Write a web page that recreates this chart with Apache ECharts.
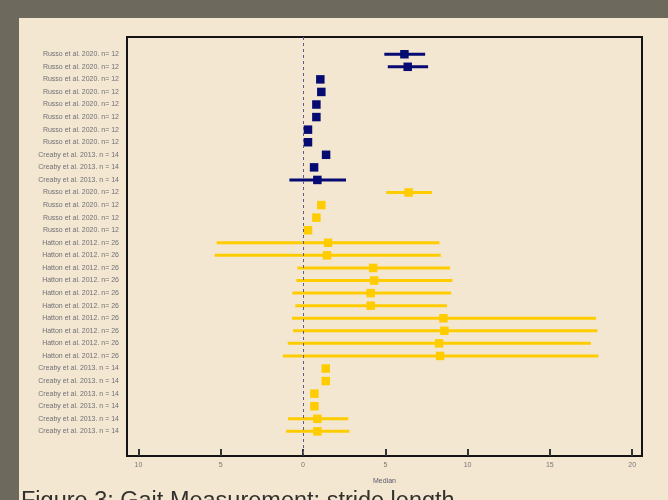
<!DOCTYPE html>
<html>
<head>
<meta charset="utf-8">
<script src="https://cdn.jsdelivr.net/npm/echarts@6/dist/echarts.min.js"></script>
<style>
  html, body { margin: 0; padding: 0; }
  #frame { position: relative; width: 668px; height: 500px; background: #6d695c; overflow: hidden; }
  #panel { position: absolute; left: 19px; top: 18px; right: 0; bottom: 0; background: #f3e7d2; }
  #chart { position: absolute; left: 0; top: 0; width: 668px; height: 500px; }
</style>
</head>
<body>
<div id="frame">
  <div id="panel"></div>
  <div id="chart"></div>
</div>
<script>
// Study rows, top to bottom
const studyLabels = [
  'Russo et al. 2020. n= 12', 'Russo et al. 2020. n= 12', 'Russo et al. 2020. n= 12',
  'Russo et al. 2020. n= 12', 'Russo et al. 2020. n= 12', 'Russo et al. 2020. n= 12',
  'Russo et al. 2020. n= 12', 'Russo et al. 2020. n= 12',
  'Creaby et al. 2013. n = 14', 'Creaby et al. 2013. n = 14', 'Creaby et al. 2013. n = 14',
  'Russo et al. 2020. n= 12', 'Russo et al. 2020. n= 12', 'Russo et al. 2020. n= 12',
  'Russo et al. 2020. n= 12',
  'Hatton et al. 2012. n= 26', 'Hatton et al. 2012. n= 26', 'Hatton et al. 2012. n= 26',
  'Hatton et al. 2012. n= 26', 'Hatton et al. 2012. n= 26', 'Hatton et al. 2012. n= 26',
  'Hatton et al. 2012. n= 26', 'Hatton et al. 2012. n= 26', 'Hatton et al. 2012. n= 26',
  'Hatton et al. 2012. n= 26',
  'Creaby et al. 2013. n = 14', 'Creaby et al. 2013. n = 14', 'Creaby et al. 2013. n = 14',
  'Creaby et al. 2013. n = 14', 'Creaby et al. 2013. n = 14', 'Creaby et al. 2013. n = 14'
];

// Median of each row
const medians = [
  6.16, 6.36, 1.05, 1.11, 0.81, 0.81, 0.30, 0.30, 1.40, 0.67, 0.87,
  6.42, 1.11, 0.81, 0.30,
  1.52, 1.46, 4.26, 4.32, 4.11, 4.11, 8.53, 8.59, 8.27, 8.33,
  1.38, 1.38, 0.69, 0.69, 0.87, 0.87
];

// Interval bounds (null where only the median is reported)
const lowerBounds = [
  4.94, 5.15, null, null, null, null, null, null, null, null, -0.83,
  5.05, null, null, null,
  -5.25, -5.37, -0.34, -0.41, -0.65, -0.47, -0.67, -0.61, -0.93, -1.23,
  null, null, null, null, -0.91, -1.03
];
const upperBounds = [
  7.42, 7.60, null, null, null, null, null, null, null, null, 2.61,
  7.84, null, null, null,
  8.29, 8.37, 8.94, 9.08, 9.00, 8.75, 17.81, 17.89, 17.49, 17.95,
  null, null, null, null, 2.75, 2.81
];

// Subgroup of each row (0 = first group, 1 = second group)
const subgroup = [
  0, 0, 0, 0, 0, 0, 0, 0, 0, 0, 0,
  1, 1, 1, 1, 1, 1, 1, 1, 1, 1, 1, 1, 1, 1, 1, 1, 1, 1, 1, 1
];

const xTicks = [-10, -5, 0, 5, 10, 15, 20];

const groupColors = ['#060b72', '#ffcc00'];
const rowNumbers = studyLabels.map((_, i) => i + 1);

const pointData = medians.map((m, i) => [m, i + 1, subgroup[i]]);
const intervalData = [];
medians.forEach((m, i) => {
  if (lowerBounds[i] !== null && upperBounds[i] !== null) {
    intervalData.push([lowerBounds[i], upperBounds[i], i + 1, subgroup[i]]);
  }
});

const chart = echarts.init(document.getElementById('chart'), null, { renderer: 'canvas' });

chart.setOption({
  animation: false,
  backgroundColor: 'transparent',
  textStyle: { fontFamily: 'Liberation Sans, Arial, sans-serif' },
  grid: {
    left: 127, right: 26, top: 37, bottom: 44,
    show: true, borderColor: '#141414', borderWidth: 2,
    backgroundColor: 'transparent'
  },
  xAxis: {
    type: 'value',
    min: -10.7, max: 20.6,
    name: 'Median',
    nameLocation: 'middle',
    nameGap: 22,
    nameTextStyle: { fontSize: 7, color: '#5a5a6a' },
    axisLine: { show: false, onZero: false },
    splitLine: { show: false },
    axisTick: {
      show: true, inside: true, length: 7,
      customValues: xTicks,
      lineStyle: { color: '#333', width: 2 }
    },
    axisLabel: {
      customValues: xTicks,
      formatter: v => String(Math.abs(v)),
      fontSize: 7, color: '#777', margin: 6
    }
  },
  yAxis: {
    type: 'value',
    inverse: true,
    min: -0.37, max: 32.96,
    axisLine: { show: false, onZero: false },
    axisTick: { show: false },
    splitLine: { show: false },
    axisLabel: {
      customValues: rowNumbers,
      formatter: v => studyLabels[v - 1] || '',
      fontSize: 7, color: '#707076', margin: 8
    }
  },
  series: [
    {
      type: 'custom',
      z: 2,
      silent: true,
      encode: { x: [0, 1], y: 2 },
      data: intervalData,
      renderItem: (params, api) => {
        const a = api.coord([api.value(0), api.value(2)]);
        const b = api.coord([api.value(1), api.value(2)]);
        return {
          type: 'line',
          shape: { x1: a[0], y1: a[1], x2: b[0], y2: b[1] },
          style: { stroke: groupColors[api.value(3)], lineWidth: 3 }
        };
      }
    },
    {
      type: 'scatter',
      z: 3,
      silent: true,
      symbol: 'rect',
      symbolSize: 8.5,
      data: pointData,
      itemStyle: {
        opacity: 1,
        color: p => groupColors[p.data[2]]
      },
      markLine: {
        silent: true,
        symbol: 'none',
        label: { show: false },
        lineStyle: { type: [3, 3], color: '#5c5c90', width: 1 },
        data: [{ xAxis: 0 }]
      }
    }
  ],
  graphic: [
    {
      type: 'text',
      left: 21,
      top: 490,
      style: {
        text: 'Figure 3: Gait Measurement: stride length',
        fontSize: 23.5,
        fontFamily: 'Liberation Sans, Arial, sans-serif',
        fill: '#33312d'
      }
    }
  ]
});
</script>
</body>
</html>
